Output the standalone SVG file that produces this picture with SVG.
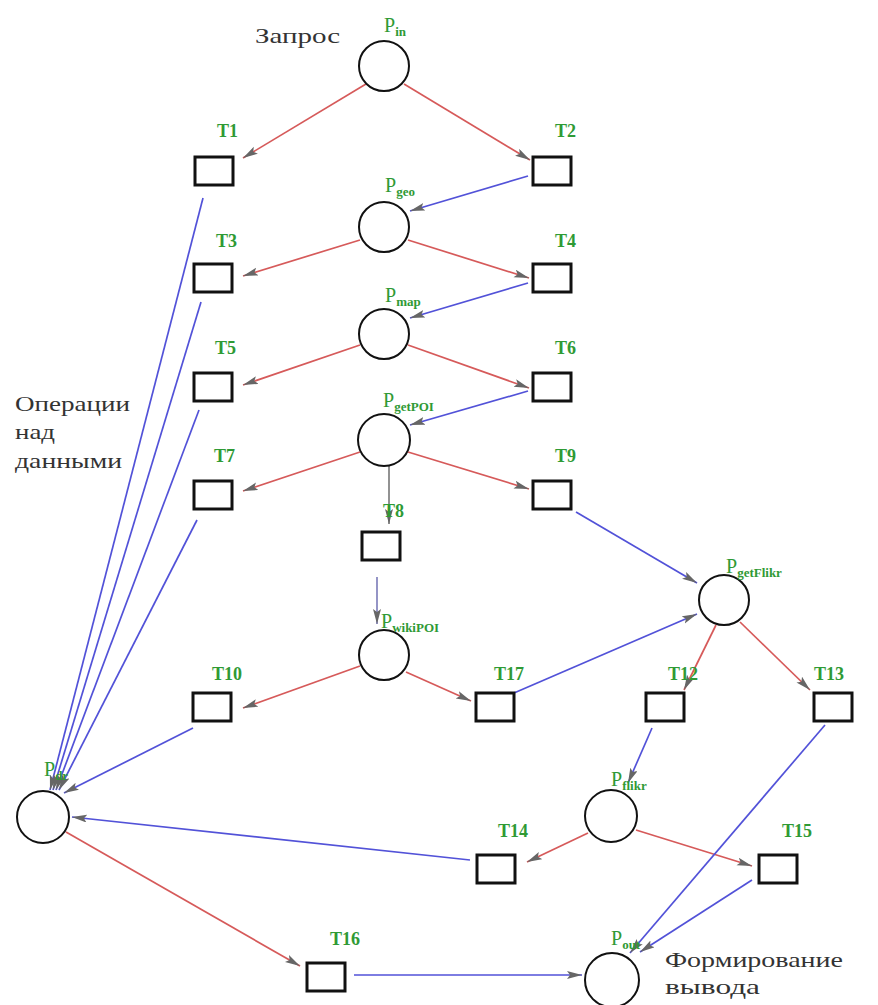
<svg xmlns="http://www.w3.org/2000/svg" width="878" height="1005" viewBox="0 0 878 1005">
<style>
.pl{fill:#fff;stroke:#111;stroke-width:2}
.tr{fill:#fff;stroke:#111;stroke-width:3}
.tl{font-family:"Liberation Serif",serif;font-weight:bold;font-size:18px;fill:#2f9a35}
.pp{font-family:"Liberation Serif",serif;font-size:20px;fill:#2f9a35}
.ps{font-size:13px;font-weight:bold}
.tx{font-family:"Liberation Serif","DejaVu Serif",serif;font-size:21px;fill:#333}
.r{stroke:#d65a5a;stroke-width:1.7;fill:none;marker-end:url(#ah)}
.b{stroke:#5252d8;stroke-width:1.7;fill:none;marker-end:url(#ah)}
.g{stroke:#777;stroke-width:1.6;fill:none;marker-end:url(#ah)}
</style>
<defs>
<marker id="ah" markerUnits="userSpaceOnUse" markerWidth="16" markerHeight="10" refX="15" refY="4" orient="auto">
<path d="M0,0 L15,4 L0,8 L3,4 Z" fill="#666"/>
</marker>
</defs>
<rect width="878" height="1005" fill="#fff"/>
<g id="connectors">
<path class="r" d="M366,84 L243,158"/>
<path class="r" d="M404,84 L530,160"/>
<path class="r" d="M360,240 L243,276"/>
<path class="r" d="M408,240 L529,278"/>
<path class="r" d="M360,345 L243,385"/>
<path class="r" d="M408,345 L529,388"/>
<path class="r" d="M360,452 L243,491"/>
<path class="r" d="M408,452 L529,489"/>
<path class="r" d="M360,666 L243,708"/>
<path class="r" d="M406,672 L471,701"/>
<path class="r" d="M716,625 L684,690"/>
<path class="r" d="M740,622 L810,690"/>
<path class="r" d="M588,833 L527,862"/>
<path class="r" d="M636,830 L752,866"/>
<path class="r" d="M66,832 L300,966"/>
<path class="g" d="M389,466 L389,524"/>
<path class="g" d="M377,577 L377,624" style="stroke:#7a7ab8"/>
<path class="b" d="M528,176 L410,211"/>
<path class="b" d="M528,283 L410,318"/>
<path class="b" d="M528,391 L410,425"/>
<path class="b" d="M576,512 L697,583"/>
<path class="b" d="M514,693 L697,614"/>
<path class="b" d="M652,728 L628,783"/>
<path class="b" d="M825,725 L630,953"/>
<path class="b" d="M752,880 L640,952"/>
<path class="b" d="M354,975 L582,975"/>
<path class="b" d="M470,860 L72,817"/>
<path class="b" d="M193,728 L64,793"/>
<path class="b" d="M203,198 L50,790"/>
<path class="b" d="M201,302 L53,790"/>
<path class="b" d="M199,410 L56,790"/>
<path class="b" d="M197,520 L59,790"/>
</g>
<g id="P_in"><circle class="pl" cx="384" cy="66" r="25"/><text class="pp" x="384" y="32">P<tspan class="ps" dy="4">in</tspan></text></g>
<g id="P_geo"><circle class="pl" cx="384" cy="227" r="25"/><text class="pp" x="385" y="192">P<tspan class="ps" dy="4">geo</tspan></text></g>
<g id="P_map"><circle class="pl" cx="384" cy="334" r="25"/><text class="pp" x="385" y="302">P<tspan class="ps" dy="4">map</tspan></text></g>
<g id="P_getPOI"><circle class="pl" cx="384" cy="440" r="26"/><text class="pp" x="383" y="407">P<tspan class="ps" dy="4">getPOI</tspan></text></g>
<g id="P_wikiPOI"><circle class="pl" cx="384" cy="655" r="25"/><text class="pp" x="381" y="628">P<tspan class="ps" dy="4">wikiPOI</tspan></text></g>
<g id="P_getFlikr"><circle class="pl" cx="724" cy="600" r="25"/><text class="pp" x="726" y="573">P<tspan class="ps" dy="4">getFlikr</tspan></text></g>
<g id="P_flikr"><circle class="pl" cx="611" cy="816" r="26"/><text class="pp" x="611" y="786">P<tspan class="ps" dy="4">flikr</tspan></text></g>
<g id="P_dr"><circle class="pl" cx="43" cy="817" r="26"/><text class="pp" x="44" y="776">P<tspan class="ps" dy="4">dr</tspan></text></g>
<g id="P_out"><circle class="pl" cx="612" cy="980" r="27"/><text class="pp" x="611" y="945">P<tspan class="ps" dy="4">out</tspan></text></g>
<g id="T1"><rect class="tr" x="195" y="157" width="38" height="28"/><text class="tl" x="217" y="137">T1</text></g>
<g id="T2"><rect class="tr" x="533" y="157" width="38" height="28"/><text class="tl" x="555" y="137">T2</text></g>
<g id="T3"><rect class="tr" x="194" y="264" width="38" height="28"/><text class="tl" x="216" y="247">T3</text></g>
<g id="T4"><rect class="tr" x="533" y="264" width="38" height="28"/><text class="tl" x="555" y="247">T4</text></g>
<g id="T5"><rect class="tr" x="194" y="373" width="38" height="28"/><text class="tl" x="215" y="354">T5</text></g>
<g id="T6"><rect class="tr" x="533" y="373" width="38" height="28"/><text class="tl" x="555" y="354">T6</text></g>
<g id="T7"><rect class="tr" x="194" y="481" width="38" height="28"/><text class="tl" x="214" y="462">T7</text></g>
<g id="T9"><rect class="tr" x="533" y="481" width="38" height="28"/><text class="tl" x="555" y="462">T9</text></g>
<g id="T8"><rect class="tr" x="362" y="532" width="38" height="28"/><text class="tl" x="383" y="517">T8</text></g>
<g id="T10"><rect class="tr" x="193" y="693" width="38" height="28"/><text class="tl" x="212" y="680">T10</text></g>
<g id="T17"><rect class="tr" x="476" y="693" width="38" height="28"/><text class="tl" x="494" y="680">T17</text></g>
<g id="T12"><rect class="tr" x="646" y="693" width="38" height="28"/><text class="tl" x="668" y="680">T12</text></g>
<g id="T13"><rect class="tr" x="814" y="693" width="38" height="28"/><text class="tl" x="814" y="680">T13</text></g>
<g id="T14"><rect class="tr" x="477" y="855" width="38" height="28"/><text class="tl" x="498" y="837">T14</text></g>
<g id="T15"><rect class="tr" x="759" y="855" width="38" height="28"/><text class="tl" x="782" y="837">T15</text></g>
<g id="T16"><rect class="tr" x="307" y="963" width="38" height="28"/><text class="tl" x="330" y="945">T16</text></g>
<g id="labels">
<text class="tx" x="255" y="43" textLength="85" lengthAdjust="spacingAndGlyphs">Запрос</text>
<text class="tx" x="15" y="411" textLength="115" lengthAdjust="spacingAndGlyphs">Операции</text>
<text class="tx" x="15" y="439" textLength="40" lengthAdjust="spacingAndGlyphs">над</text>
<text class="tx" x="15" y="468" textLength="107" lengthAdjust="spacingAndGlyphs">данными</text>
<text class="tx" x="665" y="967" textLength="178" lengthAdjust="spacingAndGlyphs">Формирование</text>
<text class="tx" x="665" y="994" textLength="95" lengthAdjust="spacingAndGlyphs">вывода</text>
</g>
</svg>
